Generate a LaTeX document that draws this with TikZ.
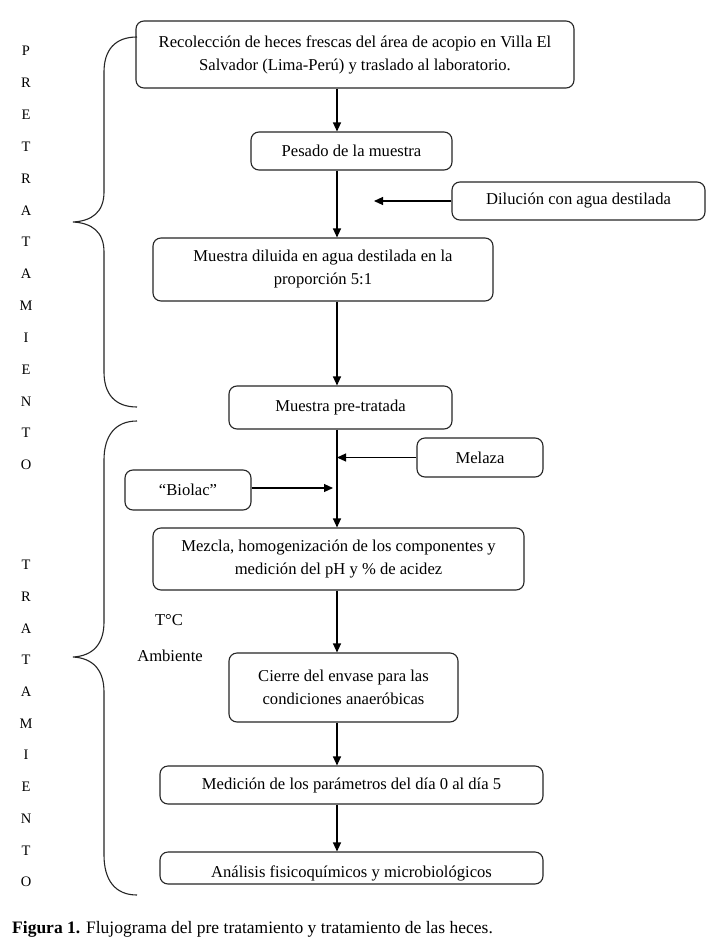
\documentclass[tikz,border=0pt]{standalone}
\usepackage{fontspec}
\setmainfont{Liberation Serif}
\usetikzlibrary{arrows.meta}
\begin{document}
\begin{tikzpicture}[x=1pt,y=-1pt,
  box/.style={draw=black!85, line width=1.1pt, rounded corners=8pt, align=center, inner sep=0pt, font=\fontsize{16.6}{23}\selectfont},
  arr/.style={line width=1.1pt, -{Triangle[length=9pt,width=8pt]}},
  lbl/.style={font=\fontsize{14.5}{16}\selectfont, inner sep=0pt},
  brace/.style={line width=1.1pt, black!85},
  txt/.style={font=\fontsize{16.6}{19}\selectfont, inner sep=0pt},
]
\useasboundingbox[fill=white] (0,0) rectangle (714,950);
\coordinate (mainx) at (337,0);

\node[box, minimum width=438pt, minimum height=67pt] (n1) at (355,54.5) {Recolección de heces frescas del área de acopio en Villa El\\ Salvador (Lima-Perú) y traslado al laboratorio.};
\node[box, minimum width=201pt, minimum height=38pt] (n2) at (351.5,151) {Pesado de la muestra};
\node[box, minimum width=253pt, minimum height=38pt] (dil) at (578.5,201) {Dilución con agua destilada};
\node[box, minimum width=340pt, minimum height=63pt] (n4) at (323,269.5) {Muestra diluida en agua destilada en la\\ proporción 5:1};
\node[box, minimum width=223pt, minimum height=43pt] (n5) at (340.5,407.5) {Muestra pre-tratada};
\node[box, minimum width=126pt, minimum height=39pt] (mel) at (480,457.5) {Melaza};
\node[box, minimum width=126pt, minimum height=40pt] (bio) at (188,490) {“Biolac”};
\node[box, minimum width=371pt, minimum height=62pt] (n8) at (338.5,559) {Mezcla, homogenización de los componentes y\\ medición del pH y \% de acidez};
\node[box, minimum width=229pt, minimum height=69pt] (n9) at (343.5,687.5) {Cierre del envase para las\\ condiciones anaeróbicas};
\node[box, minimum width=383pt, minimum height=38pt] (n10) at (351.5,785) {Medición de los parámetros del día 0 al día 5};
\node[box, minimum width=383pt, minimum height=32pt] (n11) at (351.5,868) {};
\node[txt] (n11t) at (351.5,873) {Análisis fisicoquímicos y microbiológicos};

\coordinate (dilend) at (374,201);
\draw[arr] (n1.south -| mainx) -- (n2.north -| mainx);
\draw[arr] (n2.south -| mainx) -- (n4.north -| mainx);
\draw[arr] (dil.west) -- (dilend);
\draw[arr] (n4.south -| mainx) -- (n5.north -| mainx);
\draw[arr] (n5.south -| mainx) -- (n8.north -| mainx);
\draw[arr] (mel.west) -- (mel.west -| mainx);
\coordinate (bioend) at (333,488);
\draw[arr] (bio.east |- bioend) -- (bioend);
\draw[arr] (n8.south -| mainx) -- (n9.north -| mainx);
\draw[arr] (n9.south -| mainx) -- (n10.north -| mainx);
\draw[arr] (n10.south -| mainx) -- (n11.north -| mainx);

\node[txt] (tc) at (169,620) {T°C};
\node[txt] (amb) at (170,656) {Ambiente};

% braces
\draw[brace] (137,37) .. controls (115,37) and (104,50) .. (104,72)
  -- (104,192) .. controls (104,212) and (92,221) .. (73,222)
  .. controls (92,223) and (104,232) .. (104,252)
  -- (104,372) .. controls (104,394) and (115,407) .. (137,407);
\draw[brace] (137,421) .. controls (115,421) and (104,436) .. (104,460)
  -- (104,622) .. controls (104,645) and (92,656) .. (73,657)
  .. controls (92,658) and (104,669) .. (104,692)
  -- (104,855) .. controls (104,880) and (115,895) .. (137,895);

\foreach \c [count=\i from 0] in {P,R,E,T,R,A,T,A,M,I,E,N,T,O}
  \node[lbl] (pre\i) at (26,51+31.85*\i) {\c};
\foreach \c [count=\i from 0] in {T,R,A,T,A,M,I,E,N,T,O}
  \node[lbl] (tra\i) at (26,565+31.7*\i) {\c};

\node[anchor=west, inner sep=0pt, font=\fontsize{17.5}{20}\selectfont] (cap) at (12,929) {\textbf{Figura 1.} Flujograma del pre tratamiento y tratamiento de las heces.};
\end{tikzpicture}
\end{document}
